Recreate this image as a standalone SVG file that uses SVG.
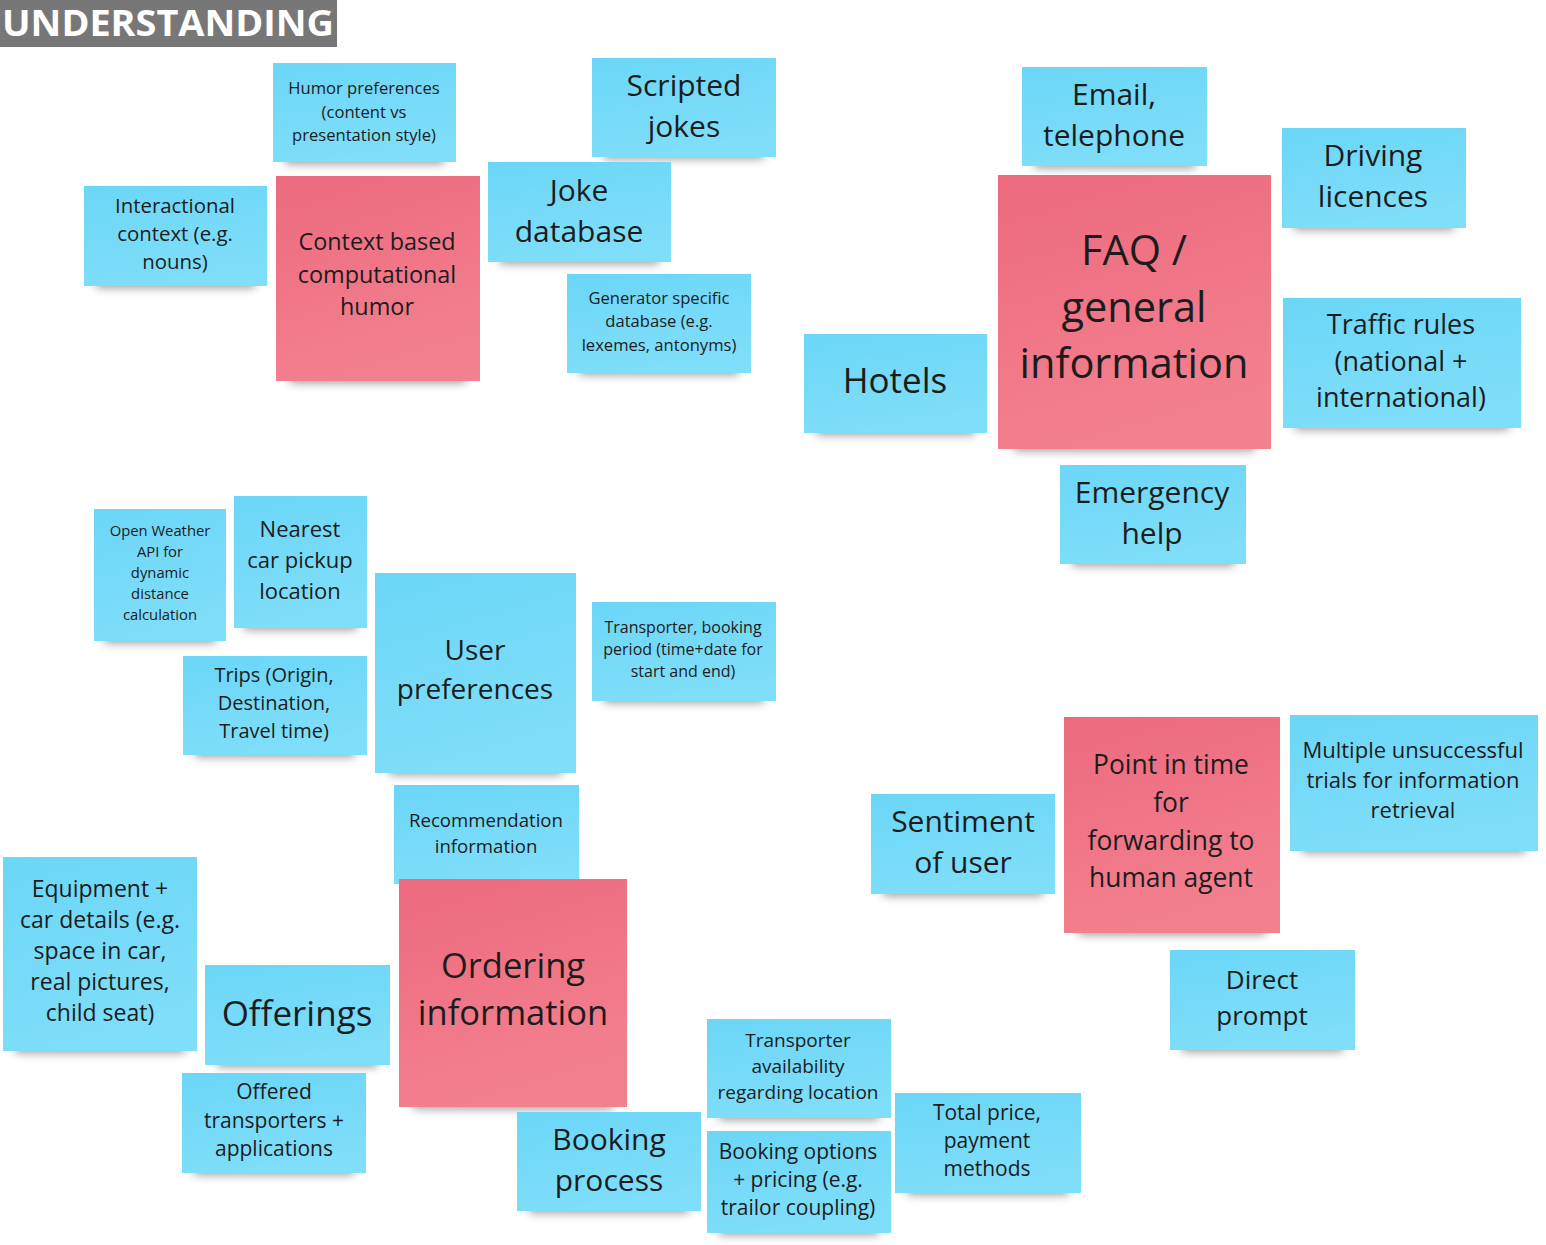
<svg xmlns="http://www.w3.org/2000/svg" width="1546" height="1245" viewBox="0 0 1546 1245">
<defs>
<linearGradient id="gb" x1="0" y1="0" x2="0.3" y2="1"><stop offset="0" stop-color="#6bd6f7"/><stop offset="1" stop-color="#7fdef9"/></linearGradient>
<linearGradient id="gp" x1="0" y1="0" x2="0.3" y2="1"><stop offset="0" stop-color="#ec6a7e"/><stop offset="1" stop-color="#f3808f"/></linearGradient>
<filter id="blur" x="-20%" y="-100%" width="140%" height="300%"><feGaussianBlur stdDeviation="5"/></filter>
</defs>
<style>
.sh{fill:#000;opacity:.38;filter:url(#blur)}
.b{fill:url(#gb)}
.p{fill:url(#gp)}
text{font-family:"Open Sans","Noto Sans","DejaVu Sans",sans-serif;fill:#1c1c1c;text-anchor:middle;dominant-baseline:central}
</style>
<rect width="1546" height="1245" fill="#fff"/>
<g id="title"><rect x="0" y="0" width="337" height="47" fill="#777"/><text x="168" y="22" textLength="332" lengthAdjust="spacingAndGlyphs" style="font-weight:bold;font-size:36px;fill:#fff">UNDERSTANDING</text></g>

<g id="humor-preferences"><rect class="sh" x="285" y="150" width="159" height="14"/><rect class="b" x="273" y="63" width="183" height="99"/><text font-size="16.6"><tspan x="364" y="87">Humor preferences</tspan><tspan x="364" y="111">(content vs</tspan><tspan x="364" y="134">presentation style)</tspan></text></g>

<g id="scripted-jokes"><rect class="sh" x="604" y="145" width="160" height="14"/><rect class="b" x="592" y="58" width="184" height="99"/><text font-size="30"><tspan x="684" y="84">Scripted</tspan><tspan x="684" y="125">jokes</tspan></text></g>

<g id="interactional-context"><rect class="sh" x="96" y="274" width="159" height="14"/><rect class="b" x="84" y="186" width="183" height="100"/><text font-size="20.4"><tspan x="175" y="205">Interactional</tspan><tspan x="175" y="233">context (e.g.</tspan><tspan x="175" y="261">nouns)</tspan></text></g>

<g id="context-humor"><rect class="sh" x="290" y="369" width="176" height="14"/><rect class="p" x="276" y="176" width="204" height="205"/><text font-size="23.4"><tspan x="377" y="241">Context based</tspan><tspan x="377" y="274">computational</tspan><tspan x="377" y="306">humor</tspan></text></g>

<g id="joke-database"><rect class="sh" x="500" y="250" width="159" height="14"/><rect class="b" x="488" y="162" width="183" height="100"/><text font-size="30"><tspan x="579" y="189">Joke</tspan><tspan x="579" y="230">database</tspan></text></g>

<g id="generator-database"><rect class="sh" x="579" y="361" width="160" height="14"/><rect class="b" x="567" y="274" width="184" height="99"/><text font-size="16.6"><tspan x="659" y="297">Generator specific</tspan><tspan x="659" y="320">database (e.g.</tspan><tspan x="659" y="344">lexemes, antonyms)</tspan></text></g>

<g id="email-telephone"><rect class="sh" x="1034" y="154" width="161" height="14"/><rect class="b" x="1022" y="67" width="185" height="99"/><text font-size="30"><tspan x="1114" y="93">Email,</tspan><tspan x="1114" y="134">telephone</tspan></text></g>

<g id="driving-licences"><rect class="sh" x="1294" y="216" width="160" height="14"/><rect class="b" x="1282" y="128" width="184" height="100"/><text font-size="30"><tspan x="1373" y="154">Driving</tspan><tspan x="1373" y="195">licences</tspan></text></g>

<g id="faq"><rect class="sh" x="1014" y="437" width="241" height="14"/><rect class="p" x="998" y="175" width="273" height="274"/><text font-size="41.5"><tspan x="1134" y="249">FAQ /</tspan><tspan x="1134" y="306">general</tspan><tspan x="1134" y="362">information</tspan></text></g>

<g id="hotels"><rect class="sh" x="816" y="421" width="159" height="14"/><rect class="b" x="804" y="334" width="183" height="99"/><text font-size="35"><tspan x="895" y="379">Hotels</tspan></text></g>

<g id="traffic-rules"><rect class="sh" x="1295" y="416" width="214" height="14"/><rect class="b" x="1283" y="298" width="238" height="130"/><text font-size="27"><tspan x="1401" y="323">Traffic rules</tspan><tspan x="1401" y="360">(national +</tspan><tspan x="1401" y="396">international)</tspan></text></g>

<g id="emergency-help"><rect class="sh" x="1072" y="552" width="162" height="14"/><rect class="b" x="1060" y="465" width="186" height="99"/><text font-size="30"><tspan x="1152" y="491">Emergency</tspan><tspan x="1152" y="532">help</tspan></text></g>

<g id="open-weather"><rect class="sh" x="104" y="629" width="112" height="14"/><rect class="b" x="94" y="509" width="132" height="132"/><text font-size="14.8"><tspan x="160" y="530">Open Weather</tspan><tspan x="160" y="551">API for</tspan><tspan x="160" y="572">dynamic</tspan><tspan x="160" y="593">distance</tspan><tspan x="160" y="614">calculation</tspan></text></g>

<g id="nearest-pickup"><rect class="sh" x="244" y="616" width="113" height="14"/><rect class="b" x="234" y="496" width="133" height="132"/><text font-size="22"><tspan x="300" y="528">Nearest</tspan><tspan x="300" y="559">car pickup</tspan><tspan x="300" y="590">location</tspan></text></g>

<g id="user-preferences"><rect class="sh" x="389" y="761" width="173" height="14"/><rect class="b" x="375" y="573" width="201" height="200"/><text font-size="28"><tspan x="475" y="649">User</tspan><tspan x="475" y="688">preferences</tspan></text></g>

<g id="transporter-booking"><rect class="sh" x="604" y="689" width="160" height="14"/><rect class="b" x="592" y="602" width="184" height="99"/><text font-size="16"><tspan x="683" y="627">Transporter, booking</tspan><tspan x="683" y="649">period (time+date for</tspan><tspan x="683" y="671">start and end)</tspan></text></g>

<g id="trips"><rect class="sh" x="195" y="743" width="160" height="14"/><rect class="b" x="183" y="656" width="184" height="99"/><text font-size="20"><tspan x="274" y="674">Trips (Origin,</tspan><tspan x="274" y="702">Destination,</tspan><tspan x="274" y="730">Travel time)</tspan></text></g>

<g id="recommendation"><rect class="sh" x="406" y="872" width="161" height="14"/><rect class="b" x="394" y="785" width="185" height="99"/><text font-size="18.6"><tspan x="486" y="819">Recommendation</tspan><tspan x="486" y="845">information</tspan></text></g>

<g id="equipment"><rect class="sh" x="15" y="1039" width="170" height="14"/><rect class="b" x="3" y="857" width="194" height="194"/><text font-size="23"><tspan x="100" y="888">Equipment +</tspan><tspan x="100" y="919">car details (e.g.</tspan><tspan x="100" y="950">space in car,</tspan><tspan x="100" y="981">real pictures,</tspan><tspan x="100" y="1012">child seat)</tspan></text></g>

<g id="offerings"><rect class="sh" x="217" y="1053" width="161" height="14"/><rect class="b" x="205" y="965" width="185" height="100"/><text font-size="35"><tspan x="297" y="1012">Offerings</tspan></text></g>

<g id="ordering-information"><rect class="sh" x="413" y="1095" width="200" height="14"/><rect class="p" x="399" y="879" width="228" height="228"/><text font-size="34.5"><tspan x="513" y="964">Ordering</tspan><tspan x="513" y="1011">information</tspan></text></g>

<g id="offered-transporters"><rect class="sh" x="194" y="1161" width="160" height="14"/><rect class="b" x="182" y="1073" width="184" height="100"/><text font-size="21"><tspan x="274" y="1091">Offered</tspan><tspan x="274" y="1120">transporters +</tspan><tspan x="274" y="1148">applications</tspan></text></g>

<g id="booking-process"><rect class="sh" x="529" y="1199" width="160" height="14"/><rect class="b" x="517" y="1112" width="184" height="99"/><text font-size="30"><tspan x="609" y="1138">Booking</tspan><tspan x="609" y="1179">process</tspan></text></g>

<g id="transporter-availability"><rect class="sh" x="719" y="1106" width="160" height="14"/><rect class="b" x="707" y="1019" width="184" height="99"/><text font-size="19"><tspan x="798" y="1040">Transporter</tspan><tspan x="798" y="1066">availability</tspan><tspan x="798" y="1092">regarding location</tspan></text></g>

<g id="booking-options"><rect class="sh" x="719" y="1221" width="160" height="14"/><rect class="b" x="707" y="1131" width="184" height="102"/><text font-size="21"><tspan x="798" y="1151">Booking options</tspan><tspan x="798" y="1179">+ pricing (e.g.</tspan><tspan x="798" y="1207">trailor coupling)</tspan></text></g>

<g id="total-price"><rect class="sh" x="907" y="1181" width="162" height="14"/><rect class="b" x="895" y="1093" width="186" height="100"/><text font-size="21"><tspan x="987" y="1112">Total price,</tspan><tspan x="987" y="1140">payment</tspan><tspan x="987" y="1168">methods</tspan></text></g>

<g id="sentiment"><rect class="sh" x="883" y="882" width="160" height="14"/><rect class="b" x="871" y="794" width="184" height="100"/><text font-size="30"><tspan x="963" y="820">Sentiment</tspan><tspan x="963" y="861">of user</tspan></text></g>

<g id="point-in-time"><rect class="sh" x="1078" y="921" width="188" height="14"/><rect class="p" x="1064" y="717" width="216" height="216"/><text font-size="26.4"><tspan x="1171" y="764">Point in time</tspan><tspan x="1171" y="802">for</tspan><tspan x="1171" y="840">forwarding to</tspan><tspan x="1171" y="877">human agent</tspan></text></g>

<g id="multiple-trials"><rect class="sh" x="1302" y="839" width="224" height="14"/><rect class="b" x="1290" y="715" width="248" height="136"/><text font-size="22"><tspan x="1413" y="749">Multiple unsuccessful</tspan><tspan x="1413" y="779">trials for information</tspan><tspan x="1413" y="809">retrieval</tspan></text></g>

<g id="direct-prompt"><rect class="sh" x="1182" y="1038" width="161" height="14"/><rect class="b" x="1170" y="950" width="185" height="100"/><text font-size="26"><tspan x="1262" y="979">Direct</tspan><tspan x="1262" y="1015">prompt</tspan></text></g>
</svg>
